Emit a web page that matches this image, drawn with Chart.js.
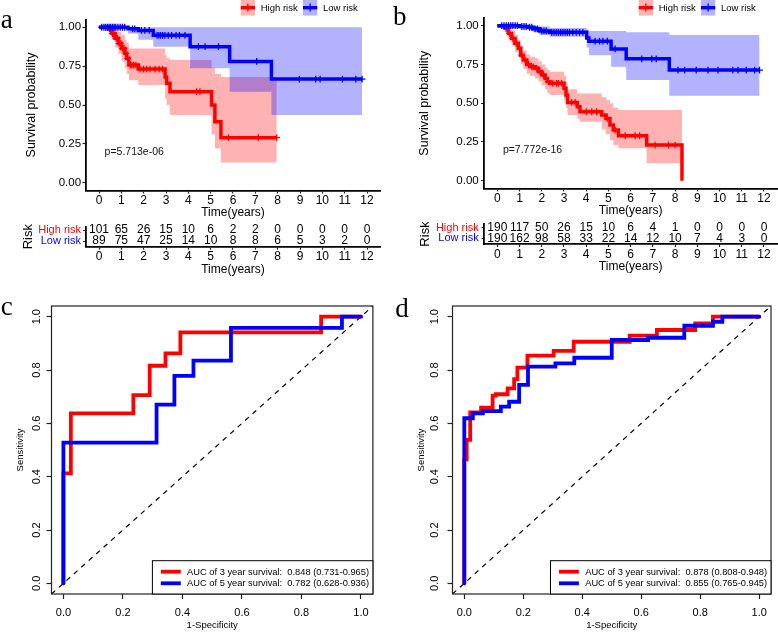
<!DOCTYPE html>
<html>
<head>
<meta charset="utf-8">
<script src="https://cdn.jsdelivr.net/npm/chart.js@4.4.1/dist/chart.umd.min.js"></script>
<style>
  html, body { margin: 0; padding: 0; background: #fff; }
  #fig { position: relative; width: 778px; height: 632px; overflow: hidden; background: #fff; }
  #fig canvas { position: absolute; }
</style>
</head>
<body>
<div id="fig">
  <canvas id="kmA" width="389" height="222" style="left:0;top:0;width:389px;height:222px"></canvas>
  <canvas id="riskA" width="389" height="68" style="left:0;top:222px;width:389px;height:68px"></canvas>
  <canvas id="kmB" width="389" height="222" style="left:389px;top:0;width:389px;height:222px"></canvas>
  <canvas id="riskB" width="389" height="68" style="left:389px;top:222px;width:389px;height:68px"></canvas>
  <canvas id="rocC" width="389" height="342" style="left:0;top:290px;width:389px;height:342px"></canvas>
  <canvas id="rocD" width="389" height="342" style="left:389px;top:290px;width:389px;height:342px"></canvas>
</div>
<script>
// ---------- data ----------
var groupNames = ['High risk', 'Low risk'];

// km axes
var kmXTicks = [0, 1, 2, 3, 4, 5, 6, 7, 8, 9, 10, 11, 12];
var kmXLabels = ['0', '1', '2', '3', '4', '5', '6', '7', '8', '9', '10', '11', '12'];
var kmYTicks = [0, 0.25, 0.5, 0.75, 1];
var kmYLabels = ['0.00', '0.25', '0.50', '0.75', '1.00'];

// panel a, high risk
var aHighTime  = [0, 0.42, 0.57, 0.72, 0.87, 1.01, 1.16, 1.24, 1.34, 1.76, 2.96, 3.03, 3.18, 5.04, 5.19, 5.46, 7.96];
var aHighSurv  = [1, 0.99, 0.96, 0.93, 0.897, 0.864, 0.832, 0.80, 0.757, 0.731, 0.68, 0.64, 0.586, 0.50, 0.393, 0.29, 0.29];
var aHighUpper = [1, 1, 1, 0.99, 0.97, 0.95, 0.92, 0.90, 0.864, 0.864, 0.82, 0.80, 0.79, 0.74, 0.70, 0.68, 0.68];
var aHighLower = [1, 0.97, 0.92, 0.87, 0.83, 0.78, 0.74, 0.70, 0.66, 0.628, 0.54, 0.50, 0.435, 0.31, 0.22, 0.13, 0.13];
var aHighCens  = [0.47, 0.52, 0.6, 0.66, 0.76, 0.82, 0.9, 0.95, 1.05, 1.12, 1.2, 1.28, 1.4, 1.47, 1.55, 1.65, 1.84, 1.99, 2.13, 2.28, 2.51, 2.69, 2.84, 4.37, 4.52, 5.79, 7.13, 7.96];
// panel a, low risk
var aLowTime  = [0, 1.3, 1.76, 2.43, 4.08, 5.85, 7.72, 11.78];
var aLowSurv  = [1, 0.99, 0.98, 0.948, 0.875, 0.78, 0.667, 0.667];
var aLowUpper = [1, 1, 1, 1, 1, 1, 1, 1];
var aLowLower = [1, 0.96, 0.92, 0.875, 0.736, 0.586, 0.435, 0.435];
var aLowCens  = [0.12, 0.22, 0.3, 0.38, 0.45, 0.52, 0.6, 0.68, 0.75, 0.85, 0.95, 1.05, 1.15, 1.5, 1.6, 1.9, 2.05, 2.25, 2.6, 2.68, 2.76, 2.85, 2.95, 3.1, 3.25, 3.45, 3.6, 3.85, 4.45, 4.75, 5.35, 7.06, 8.97, 9.7, 9.9, 10.9, 11.5, 11.78];
var aPValue = 'p=5.713e-06';

// panel b, high risk
var bHighTime  = [0, 0.35, 0.5, 0.645, 0.795, 0.945, 1.05, 1.17, 1.32, 1.47, 1.7, 1.85, 2.0, 2.15, 2.25, 2.37, 3.0, 3.09, 3.16, 3.6, 3.72, 4.7, 4.89, 5.07, 5.22, 5.45, 6.72, 8.31];
var bHighSurv  = [1, 0.983, 0.95, 0.918, 0.886, 0.854, 0.81, 0.778, 0.75, 0.735, 0.725, 0.703, 0.682, 0.66, 0.639, 0.628, 0.596, 0.553, 0.505, 0.477, 0.445, 0.424, 0.402, 0.359, 0.327, 0.29, 0.23, 0];
var bHighUpper = [1, 1, 0.99, 0.97, 0.94, 0.91, 0.87, 0.84, 0.815, 0.80, 0.79, 0.77, 0.75, 0.73, 0.715, 0.703, 0.675, 0.64, 0.59, 0.565, 0.563, 0.54, 0.52, 0.50, 0.47, 0.456, 0.456, 0.456];
var bHighLower = [1, 0.96, 0.91, 0.87, 0.83, 0.80, 0.75, 0.72, 0.69, 0.675, 0.66, 0.64, 0.615, 0.59, 0.565, 0.553, 0.52, 0.47, 0.424, 0.40, 0.38, 0.33, 0.30, 0.262, 0.23, 0.209, 0.112, 0.112];
var bHighCens  = [0.4, 0.55, 0.7, 0.85, 1.1, 1.25, 1.4, 1.55, 1.62, 1.78, 1.92, 2.08, 2.3, 2.5, 2.67, 2.75, 2.9, 3.35, 3.5, 4.0, 4.25, 4.47, 4.95, 5.3, 5.75, 6.2, 6.4, 7.1, 7.7, 8.0];
// panel b, low risk
var bLowTime  = [0, 1.0, 1.38, 1.6, 1.9, 2.35, 4.02, 4.12, 5.12, 5.8, 7.74, 11.8];
var bLowSurv  = [1, 0.995, 0.99, 0.98, 0.966, 0.957, 0.92, 0.90, 0.85, 0.786, 0.714, 0.714];
var bLowUpper = [1, 1, 1, 1, 0.995, 0.985, 0.975, 0.966, 0.966, 0.957, 0.94, 0.94];
var bLowLower = [1, 0.985, 0.975, 0.96, 0.94, 0.928, 0.86, 0.81, 0.735, 0.65, 0.548, 0.548];
var bLowCens  = [0.2, 0.3, 0.4, 0.5, 0.6, 0.7, 0.8, 0.9, 1.1, 1.2, 1.3, 1.45, 1.55, 1.7, 1.8, 2.0, 2.1, 2.2, 2.45, 2.55, 2.65, 2.75, 2.85, 2.95, 3.05, 3.15, 3.25, 3.4, 3.55, 3.7, 3.85, 4.4, 4.6, 4.75, 4.95, 5.3, 6.5, 6.95, 7.15, 8.13, 8.43, 8.95, 9.48, 9.93, 10.6, 10.83, 11.2, 11.58, 11.8];
var bPValue = 'p=7.772e-16';

// numbers at risk
var riskTimes = [0, 1, 2, 3, 4, 5, 6, 7, 8, 9, 10, 11, 12];
var aRiskHigh = [101, 65, 26, 15, 10, 6, 2, 2, 0, 0, 0, 0, 0];
var aRiskLow  = [89, 75, 47, 25, 14, 10, 8, 8, 6, 5, 3, 2, 0];
var bRiskHigh = [190, 117, 50, 26, 15, 10, 6, 4, 1, 0, 0, 0, 0];
var bRiskLow  = [190, 162, 98, 58, 33, 22, 14, 12, 10, 7, 4, 3, 0];

// roc axes
var rocTicks = [0, 0.2, 0.4, 0.6, 0.8, 1];
var rocLabels = ['0.0', '0.2', '0.4', '0.6', '0.8', '1.0'];
var rocLim = [-0.04, 1.04];

// panel c
var cFpr3 = [0, 0, 0.025, 0.025, 0.235, 0.235, 0.29, 0.29, 0.343, 0.343, 0.393, 0.393, 0.866, 0.866, 1];
var cTpr3 = [0, 0.412, 0.412, 0.637, 0.637, 0.706, 0.706, 0.816, 0.816, 0.862, 0.862, 0.941, 0.941, 1, 1];
var cFpr5 = [0, 0, 0.313, 0.313, 0.373, 0.373, 0.437, 0.437, 0.563, 0.563, 0.936, 0.936, 1];
var cTpr5 = [0, 0.528, 0.528, 0.67, 0.67, 0.778, 0.778, 0.835, 0.835, 0.958, 0.958, 1, 1];
var cLegend = ['AUC of 3 year survival:  0.848 (0.731-0.965)', 'AUC of 5 year survival:  0.782 (0.628-0.936)'];

// panel d
var dFpr3 = [0, 0, 0.008, 0.008, 0.02, 0.02, 0.057, 0.057, 0.096, 0.096, 0.107, 0.107, 0.147, 0.147, 0.169, 0.169, 0.18, 0.18, 0.214, 0.214, 0.303, 0.303, 0.371, 0.371, 0.561, 0.561, 0.653, 0.653, 0.783, 0.783, 0.843, 0.843, 1];
var dTpr3 = [0, 0.465, 0.465, 0.538, 0.538, 0.641, 0.641, 0.659, 0.659, 0.704, 0.704, 0.709, 0.709, 0.731, 0.731, 0.766, 0.766, 0.809, 0.809, 0.854, 0.854, 0.872, 0.872, 0.906, 0.906, 0.929, 0.929, 0.95, 0.95, 0.975, 0.975, 1, 1];
var dFpr5 = [0, 0, 0.029, 0.029, 0.063, 0.063, 0.124, 0.124, 0.152, 0.152, 0.186, 0.186, 0.216, 0.216, 0.309, 0.309, 0.373, 0.373, 0.5, 0.5, 0.623, 0.623, 0.746, 0.746, 0.843, 0.843, 0.875, 0.875, 1];
var dTpr5 = [0, 0.619, 0.619, 0.6375, 0.6375, 0.646, 0.646, 0.6625, 0.6625, 0.681, 0.681, 0.744, 0.744, 0.8125, 0.8125, 0.825, 0.825, 0.846, 0.846, 0.9125, 0.9125, 0.921, 0.921, 0.966, 0.966, 0.981, 0.981, 1, 1];
var dLegend = ['AUC of 3 year survival:  0.878 (0.808-0.948)', 'AUC of 5 year survival:  0.855 (0.765-0.945)'];

// ---------- styling ----------
var FONT = '"Liberation Sans", Arial, sans-serif';
var SERIF = '"Liberation Serif", "Times New Roman", serif';
var RED = '#FF0000', BLUE = '#0000FF';
var RED_FILL = 'rgba(255,0,0,0.3)', BLUE_FILL = 'rgba(0,0,255,0.3)';
var NONE = 'rgba(0,0,0,0)';

Chart.defaults.font.family = FONT;
Chart.defaults.color = '#000';

function pts(xs, ys) {
  return xs.map(function (x, i) { return { x: x, y: ys[i] }; });
}

function survAt(times, surv, t) {
  var v = surv[0];
  for (var i = 0; i < times.length; i++) {
    if (times[i] <= t) v = surv[i];
  }
  return v;
}

function fixedTicks(values) {
  return function (scale) {
    scale.ticks = values.map(function (v) { return { value: v }; });
  };
}

function baseOptions(g) {
  return {
    responsive: false,
    animation: false,
    devicePixelRatio: 1,
    events: [],
    layout: { autoPadding: false, padding: { left: 0, top: g.padTop, right: g.padRight, bottom: 0 } },
    plugins: { legend: { display: false }, tooltip: { enabled: false } }
  };
}

function tickGrid(len) {
  return { display: true, drawOnChartArea: false, drawTicks: true, tickLength: len, tickWidth: 1.2, tickColor: '#222' };
}

// ---------- Kaplan-Meier panel ----------
function makeKM(id, g, d) {
  var extras = {
    id: 'kmExtras',
    afterDraw: function (chart) {
      var ctx = chart.ctx, xs = chart.scales.x, ys = chart.scales.y;
      ctx.save();
      ctx.fillStyle = '#000';
      ctx.textAlign = 'left';
      ctx.textBaseline = 'alphabetic';
      ctx.font = '27px ' + SERIF;
      ctx.fillText(g.letter, g.letterX, g.letterY);

      ctx.font = '10.5px ' + FONT;
      ctx.textBaseline = 'middle';
      ctx.fillStyle = '#111';
      ctx.fillText(d.pValue, xs.getPixelForValue(0.25), ys.getPixelForValue(0.2));

      // legend keys
      var x = g.legendX;
      var keys = [{ c: RED, f: RED_FILL }, { c: BLUE, f: BLUE_FILL }];
      ctx.font = '9.5px ' + FONT;
      groupNames.forEach(function (name, i) {
        ctx.fillStyle = keys[i].f;
        ctx.fillRect(x, 0, 14.3, 15.5);
        ctx.strokeStyle = keys[i].c;
        ctx.lineWidth = 3.4;
        ctx.beginPath(); ctx.moveTo(x, 7.7); ctx.lineTo(x + 14.3, 7.7); ctx.stroke();
        ctx.lineWidth = 1.3;
        ctx.beginPath(); ctx.moveTo(x + 7.15, 3.5); ctx.lineTo(x + 7.15, 11.5); ctx.stroke();
        ctx.fillStyle = '#000';
        ctx.fillText(name, x + 20, 8);
        x += 20 + ctx.measureText(name).width + 5.3;
      });
      ctx.restore();
    }
  };

  function censor(times, surv, cens, color) {
    return {
      data: cens.map(function (t) { return { x: t, y: survAt(times, surv, t) }; }),
      showLine: false, pointStyle: 'cross', pointRadius: 3.4, pointBorderWidth: 1.3,
      borderColor: color, backgroundColor: color, fill: false
    };
  }
  function curve(times, vals, color) {
    return {
      data: pts(times, vals), stepped: true, borderColor: color, borderWidth: 3.5,
      borderCapStyle: 'butt', borderJoinStyle: 'miter', pointRadius: 0, fill: false
    };
  }
  function band(times, vals, fillColor) {
    return {
      data: pts(times, vals), stepped: true, borderColor: NONE, borderWidth: 0, pointRadius: 0,
      fill: fillColor ? '-1' : false, backgroundColor: fillColor || NONE
    };
  }

  var opts = baseOptions(g);
  opts.scales = {
    x: {
      type: 'linear', min: -0.6, max: 12.6,
      afterBuildTicks: fixedTicks(kmXTicks),
      afterFit: function (s) { s.height = g.xH; s.paddingLeft = 0; s.paddingRight = 0; },
      grid: tickGrid(3),
      border: { display: true, color: '#000', width: 1.8 },
      ticks: { autoSkip: false, maxRotation: 0, padding: 0, color: '#000', font: { size: 12 },
               callback: function (v, i) { return kmXLabels[i]; } },
      title: { display: true, text: 'Time(years)', color: '#000', font: { size: 12 }, padding: { top: 0, bottom: g.xTitlePad } }
    },
    y: {
      type: 'linear', min: -0.05, max: 1.05,
      afterBuildTicks: fixedTicks(kmYTicks),
      afterFit: function (s) { s.width = g.yW; s.paddingTop = 0; s.paddingBottom = 0; },
      grid: tickGrid(3),
      border: { display: true, color: '#000', width: 1.8 },
      ticks: { autoSkip: false, padding: g.yTickPad, color: '#000', font: { size: 11.5 },
               callback: function (v, i) { return kmYLabels[i]; } },
      title: { display: true, text: 'Survival probability', color: '#000', font: { size: 12.5 }, padding: { top: g.yTitlePad, bottom: 0 } }
    }
  };

  return new Chart(document.getElementById(id), {
    type: 'line',
    data: {
      datasets: [
        censor(d.lowTime, d.lowSurv, d.lowCens, BLUE),
        censor(d.highTime, d.highSurv, d.highCens, RED),
        curve(d.lowTime, d.lowSurv, BLUE),
        curve(d.highTime, d.highSurv, RED),
        band(d.lowTime, d.lowUpper),
        band(d.lowTime, d.lowLower, BLUE_FILL),
        band(d.highTime, d.highUpper),
        band(d.highTime, d.highLower, RED_FILL)
      ]
    },
    options: opts,
    plugins: [extras]
  });
}

// ---------- numbers-at-risk table ----------
function makeRisk(id, g, high, low) {
  var numbers = {
    id: 'riskNumbers',
    afterDatasetsDraw: function (chart) {
      var ctx = chart.ctx;
      ctx.save();
      ctx.font = '12px ' + FONT;
      ctx.fillStyle = '#000';
      ctx.textAlign = 'center';
      ctx.textBaseline = 'middle';
      chart.data.datasets.forEach(function (ds, i) {
        chart.getDatasetMeta(i).data.forEach(function (el, j) {
          ctx.fillText(String(ds.data[j].n), el.x, el.y);
        });
      });
      ctx.restore();
    }
  };
  function row(counts, yv) {
    return {
      data: riskTimes.map(function (t, i) { return { x: t, y: yv, n: counts[i] }; }),
      showLine: false, pointRadius: 0, borderColor: NONE
    };
  }
  var opts = baseOptions(g);
  opts.scales = {
    x: {
      type: 'linear', min: -0.6, max: 12.6,
      afterBuildTicks: fixedTicks(kmXTicks),
      afterFit: function (s) { s.height = g.xH; s.paddingLeft = 0; s.paddingRight = 0; },
      grid: tickGrid(3),
      border: { display: true, color: '#000', width: 1.8 },
      ticks: { autoSkip: false, maxRotation: 0, padding: 0, color: '#000', font: { size: 12 },
               callback: function (v, i) { return kmXLabels[i]; } },
      title: { display: true, text: 'Time(years)', color: '#000', font: { size: 12 }, padding: { top: 0, bottom: g.xTitlePad } }
    },
    y: {
      type: 'linear', min: g.yMin, max: g.yMax,
      afterBuildTicks: fixedTicks([0, 1]),
      afterFit: function (s) { s.width = g.yW; s.paddingTop = 0; s.paddingBottom = 0; },
      grid: tickGrid(2.5),
      border: { display: true, color: '#000', width: 1.8 },
      ticks: { autoSkip: false, padding: g.yTickPad, font: { size: 11 },
               color: function (c) { return c.tick && c.tick.value === 1 ? RED : BLUE; },
               callback: function (v) { return v === 1 ? groupNames[0] : groupNames[1]; } },
      title: { display: true, text: 'Risk', color: '#000', font: { size: 13 }, padding: { top: g.yTitlePad, bottom: 0 } }
    }
  };
  return new Chart(document.getElementById(id), {
    type: 'line',
    data: { datasets: [row(high, 1), row(low, 0)] },
    options: opts,
    plugins: [numbers]
  });
}

// ---------- ROC panel ----------
function makeROC(id, g, d) {
  var extras = {
    id: 'rocExtras',
    afterDraw: function (chart) {
      var ctx = chart.ctx, a = chart.chartArea;
      ctx.save();
      ctx.strokeStyle = '#222';
      ctx.lineWidth = 1.2;
      ctx.strokeRect(a.left, a.top, a.right - a.left, a.bottom - a.top);

      // legend box, bottom right
      ctx.font = '9.3px ' + FONT;
      var tw = Math.max(ctx.measureText(d.legend[0]).width, ctx.measureText(d.legend[1]).width);
      var w = 8.4 + 20 + 6.3 + tw + 3.9, h = 33.3;
      var bx = a.right - w, by = a.bottom - h;
      ctx.fillStyle = '#fff';
      ctx.fillRect(bx, by, w, h);
      ctx.lineWidth = 1;
      ctx.strokeStyle = '#000';
      ctx.strokeRect(bx, by, w, h);
      var colors = [RED, BLUE];
      ctx.textAlign = 'left';
      ctx.textBaseline = 'middle';
      d.legend.forEach(function (txt, i) {
        var y = a.bottom - (i === 0 ? 22.3 : 10.7);
        ctx.strokeStyle = colors[i];
        ctx.lineWidth = 3.8;
        ctx.beginPath(); ctx.moveTo(bx + 8.4, y); ctx.lineTo(bx + 28.4, y); ctx.stroke();
        ctx.fillStyle = '#000';
        ctx.fillText(txt, bx + 34.7, y + 0.5);
      });

      ctx.fillStyle = '#000';
      ctx.font = '27px ' + SERIF;
      ctx.textBaseline = 'alphabetic';
      ctx.fillText(g.letter, g.letterX, g.letterY);
      ctx.restore();
    }
  };
  function roc(xs, ys, color) {
    return { data: pts(xs, ys), borderColor: color, borderWidth: 3.8, borderCapStyle: 'round',
             borderJoinStyle: 'miter', pointRadius: 0, fill: false, tension: 0 };
  }
  var opts = baseOptions(g);
  opts.scales = {
    x: {
      type: 'linear', min: rocLim[0], max: rocLim[1],
      afterBuildTicks: fixedTicks(rocTicks),
      afterFit: function (s) { s.height = g.xH; s.paddingLeft = 0; s.paddingRight = 0; },
      grid: tickGrid(5),
      border: { display: false },
      ticks: { autoSkip: false, maxRotation: 0, padding: 7, color: '#000', font: { size: 11 },
               callback: function (v, i) { return rocLabels[i]; } },
      title: { display: true, text: '1-Specificity', color: '#000', font: { size: 9.5 }, padding: { top: 0, bottom: 1.3 } }
    },
    y: {
      type: 'linear', min: rocLim[0], max: rocLim[1],
      afterBuildTicks: fixedTicks(rocTicks),
      afterFit: function (s) { s.width = g.yW; s.paddingTop = 0; s.paddingBottom = 0; },
      grid: tickGrid(5),
      border: { display: false },
      ticks: { autoSkip: false, minRotation: 90, maxRotation: 90, crossAlign: 'center', padding: g.yTickPad,
               color: '#000', font: { size: 11 }, callback: function (v, i) { return rocLabels[i]; } },
      title: { display: true, text: 'Sensitivity', color: '#000', font: { size: 9.5 }, padding: { top: g.yTitlePad, bottom: 0 } }
    }
  };
  return new Chart(document.getElementById(id), {
    type: 'line',
    data: {
      datasets: [
        roc(d.fpr5, d.tpr5, BLUE),
        roc(d.fpr3, d.tpr3, RED),
        { data: pts(rocLim, rocLim), borderColor: '#000', borderWidth: 1.2, borderDash: [5, 5],
          pointRadius: 0, fill: false }
      ]
    },
    options: opts,
    plugins: [extras]
  });
}

// ---------- build the figure ----------
makeKM('kmA',
  { padTop: 19.5, padRight: 8.6, yW: 85.6, xH: 31.5, yTitlePad: 24.2, xTitlePad: 1.8, yTickPad: 1.5,
    letter: 'a', letterX: 0.7, letterY: 28, legendX: 240.7 },
  { highTime: aHighTime, highSurv: aHighSurv, highUpper: aHighUpper, highLower: aHighLower, highCens: aHighCens,
    lowTime: aLowTime, lowSurv: aLowSurv, lowUpper: aLowUpper, lowLower: aLowLower, lowCens: aLowCens, pValue: aPValue });

makeKM('kmB',
  { padTop: 17.95, padRight: 0.7, yW: 95, xH: 33.55, yTitlePad: 28.2, xTitlePad: 3.8, yTickPad: 2.3,
    letter: 'b', letterX: 4, letterY: 25, legendX: 249.7 },
  { highTime: bHighTime, highSurv: bHighSurv, highUpper: bHighUpper, highLower: bHighLower, highCens: bHighCens,
    lowTime: bLowTime, lowSurv: bLowSurv, lowUpper: bLowUpper, lowLower: bLowLower, lowCens: bLowCens, pValue: bPValue });

makeRisk('riskA',
  { padTop: 4.7, padRight: 8.6, yW: 85.6, xH: 43.3, yMin: -0.518, yMax: 1.3, yTitlePad: 20.2, xTitlePad: 12.8, yTickPad: 2.1 },
  aRiskHigh, aRiskLow);

makeRisk('riskB',
  { padTop: 2, padRight: 0.7, yW: 95, xH: 46, yMin: -0.54, yMax: 1.35, yTitlePad: 28.5, xTitlePad: 16.1, yTickPad: 2.8 },
  bRiskHigh, bRiskLow);

makeROC('rocC',
  { padTop: 16, padRight: 16.1, yW: 51.5, xH: 38, yTitlePad: 14.3, yTickPad: 2.15,
    letter: 'c', letterX: 0.7, letterY: 25 },
  { fpr3: cFpr3, tpr3: cTpr3, fpr5: cFpr5, tpr5: cTpr5, legend: cLegend });

makeROC('rocD',
  { padTop: 16, padRight: 7, yW: 63.5, xH: 38, yTitlePad: 26.3, yTickPad: 5.15,
    letter: 'd', letterX: 6.3, letterY: 26.7 },
  { fpr3: dFpr3, tpr3: dTpr3, fpr5: dFpr5, tpr5: dTpr5, legend: dLegend });
</script>
</body>
</html>
